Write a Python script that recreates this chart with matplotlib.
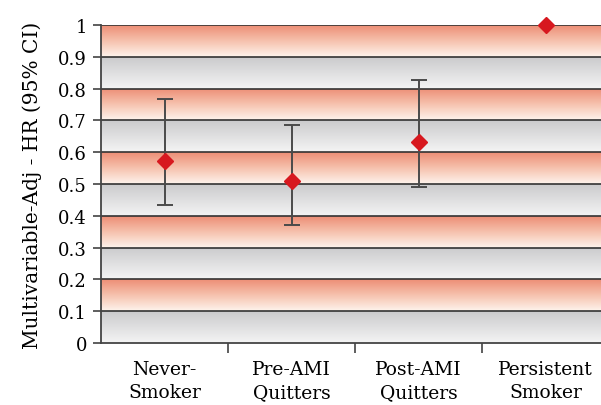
import matplotlib.pyplot as plt
from matplotlib.colors import LinearSegmentedColormap
import numpy as np

plt.rcParams['font.family'] = ['DejaVu Serif']

# data
groups = ['Never-\nSmoker', 'Pre-AMI\nQuitters', 'Post-AMI\nQuitters', 'Persistent\nSmoker']
hr = [0.573, 0.508, 0.631, 1.0]
ci_low = [0.434, 0.371, 0.492, 1.0]
ci_high = [0.768, 0.686, 0.826, 1.0]
yticks = [0, 0.1, 0.2, 0.3, 0.4, 0.5, 0.6, 0.7, 0.8, 0.9, 1]
ytick_labels = ['0', '0.1', '0.2', '0.3', '0.4', '0.5', '0.6', '0.7', '0.8', '0.9', '1']

fig = plt.figure(figsize=(6.01, 4.06), dpi=100)
ax = fig.add_axes([101 / 601, 1 - 344 / 406, 508 / 601, 318 / 406])

orange = LinearSegmentedColormap.from_list('o', ['#fef3ec', '#f6c2ae', '#ed8e76'])
gray = LinearSegmentedColormap.from_list('g', ['#f4f4f4', '#cbcbcd'])
grad = np.linspace(0, 1, 64).reshape(-1, 1)
for i in range(10):
    cm = orange if i % 2 == 1 else gray
    ax.imshow(grad, cmap=cm, aspect='auto', origin='lower',
              extent=[0.5, 4.5, i / 10, (i + 1) / 10], zorder=0)
for y in yticks[1:]:
    ax.axhline(y, color='#333333', lw=1.2, zorder=1)

x = np.arange(1, len(groups) + 1)
idx = [i for i in range(len(groups)) if ci_high[i] > ci_low[i]]
ax.errorbar(x[idx], [hr[i] for i in idx],
            yerr=[[hr[i] - ci_low[i] for i in idx], [ci_high[i] - hr[i] for i in idx]],
            fmt='none', ecolor='#4a4a4a', elinewidth=1.4, capsize=5.8, capthick=1.4, zorder=3)
ax.plot(x, hr, linestyle='none', marker='D', color='#d7181f', markersize=8.5, zorder=4,
        clip_on=False)

ax.set_xlim(0.5, 4.5)
ax.set_ylim(0, 1)
ax.set_yticks(yticks)
ax.set_yticklabels(ytick_labels, fontsize=13)
ax.set_xticks([1.5, 2.5, 3.5])
ax.set_xticklabels([])
ax.set_xticks(x, minor=True)
ax.set_xticklabels(groups, minor=True, fontsize=13.5, linespacing=1.4)
ax.tick_params(axis='x', which='minor', length=0, pad=12)
ax.tick_params(axis='x', which='major', length=7, width=1.1, color='#333333', direction='out')
ax.tick_params(axis='y', length=6, width=1.1, color='#333333', direction='out', pad=4)
for s in ['top', 'right']:
    ax.spines[s].set_visible(False)
for s in ['left', 'bottom']:
    ax.spines[s].set_color('#444444')
    ax.spines[s].set_linewidth(1.3)
ax.set_ylabel('Multivariable-Adj - HR (95% CI)', fontsize=14.5, labelpad=12)

fig.savefig('out.png', dpi=100)
